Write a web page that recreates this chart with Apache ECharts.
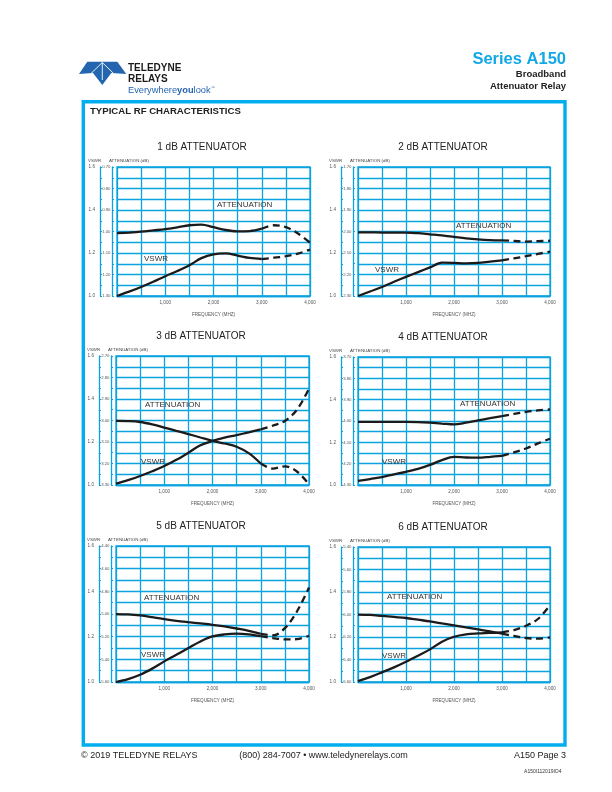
<!DOCTYPE html>
<html><head><meta charset="utf-8">
<script src="https://cdn.jsdelivr.net/npm/echarts@6/dist/echarts.min.js"></script>
<style>html,body{margin:0;padding:0;background:#fff}#c{width:612px;height:792px}</style>
</head><body><div id="c"></div>
<script>
// ---- data ----
const FREQ = [0,250,500,750,1000,1250,1500,1750,2000,2250,2500,2750,3000,3250,3500,3750,4000];

const ATT_1DB  = [1.008,1.005,1.001,0.995,0.989,0.981,0.971,0.968,0.980,0.993,0.999,0.998,0.987,0.971,0.980,1.009,1.052];
const VSWR_1DB = [1.000,1.020,1.042,1.066,1.092,1.116,1.143,1.176,1.194,1.198,1.188,1.177,1.172,1.178,1.185,1.197,1.216];

const ATT_2DB  = [2.004,2.004,2.005,2.005,2.005,2.008,2.013,2.018,2.025,2.032,2.037,2.040,2.041,2.044,2.047,2.045,2.043];
const VSWR_2DB = [1.000,1.021,1.042,1.066,1.089,1.111,1.133,1.155,1.154,1.152,1.154,1.160,1.166,1.175,1.185,1.196,1.206];

const ATT_3DB  = [3.002,3.003,3.007,3.018,3.033,3.048,3.063,3.079,3.095,3.107,3.122,3.152,3.200,3.224,3.213,3.237,3.297];
const VSWR_3DB = [1.006,1.023,1.042,1.064,1.088,1.117,1.150,1.185,1.205,1.220,1.232,1.245,1.259,1.276,1.298,1.350,1.448];

const ATT_4DB  = [4.004,4.004,4.004,4.004,4.004,4.005,4.008,4.012,4.016,4.008,3.997,3.987,3.977,3.967,3.957,3.950,3.946];
const VSWR_4DB = [1.019,1.028,1.037,1.050,1.062,1.076,1.094,1.117,1.132,1.129,1.128,1.132,1.137,1.153,1.171,1.195,1.217];

const ATT_5DB  = [5.001,5.004,5.013,5.028,5.045,5.060,5.072,5.083,5.095,5.110,5.128,5.148,5.175,5.189,5.125,4.978,4.767];
const VSWR_5DB = [1.000,1.013,1.032,1.059,1.091,1.120,1.150,1.179,1.201,1.210,1.213,1.210,1.202,1.194,1.188,1.189,1.204];

const ATT_6DB  = [6.001,6.004,6.013,6.022,6.031,6.046,6.061,6.079,6.096,6.114,6.132,6.150,6.170,6.191,6.209,6.215,6.203];
const VSWR_6DB = [1.004,1.022,1.043,1.065,1.090,1.117,1.145,1.179,1.201,1.212,1.216,1.218,1.221,1.231,1.250,1.280,1.342];

const CHART_TITLES = ['1 dB ATTENUATOR','2 dB ATTENUATOR','3 dB ATTENUATOR','4 dB ATTENUATOR','5 dB ATTENUATOR','6 dB ATTENUATOR'];
const ATT_MIN = [0.70,1.70,2.70,3.70,4.40,5.40];
const ATT_MAX = [1.30,2.30,3.30,4.30,5.60,6.60];
const VSWR_MIN = 1.0, VSWR_MAX = 1.6;
const X_TICK_LABELS = ['1,000','2,000','3,000','4,000'];
const DASH_START_MHZ = 3000;

const ATT_SERIES = [ATT_1DB,ATT_2DB,ATT_3DB,ATT_4DB,ATT_5DB,ATT_6DB];
const VSWR_SERIES = [VSWR_1DB,VSWR_2DB,VSWR_3DB,VSWR_4DB,VSWR_5DB,VSWR_6DB];

// ---- layout ----
const GRIDS = [
  {left:117, top:167, width:193, height:129},
  {left:358, top:167, width:192, height:129},
  {left:116, top:356, width:193, height:129},
  {left:358, top:357, width:192, height:128},
  {left:116, top:546, width:193, height:136},
  {left:358, top:547, width:192, height:135}
];
const LABEL_POS = [
  {att:[217,205], vswr:[144,259]},
  {att:[456,226], vswr:[375,270]},
  {att:[145,405], vswr:[141,462]},
  {att:[460,404], vswr:[382,462]},
  {att:[144,598], vswr:[141,655]},
  {att:[387,597], vswr:[382,656]}
];
const BLUE = '#0AA2DF';
const FRAME = '#00AEEF';
const INK = '#1b1b1b';
const FONT = '"Liberation Sans", Arial, Helvetica, sans-serif';

const grid = [], xAxis = [], yAxis = [], series = [], graphic = [];

GRIDS.forEach((g, k) => {
  grid.push(Object.assign({show:true, borderColor:BLUE, borderWidth:1.3, backgroundColor:'transparent'}, g));
  xAxis.push({
    type:'value', gridIndex:k, min:0, max:4000, interval:500,
    axisLine:{show:true, lineStyle:{color:BLUE, width:1.3}},
    axisTick:{show:false},
    splitLine:{show:true, lineStyle:{color:BLUE, width:1.3}},
    axisLabel:{fontSize:4.6, color:'#555', margin:4, fontFamily:FONT,
      formatter:v => (v > 0 && v % 1000 === 0) ? X_TICK_LABELS[v/1000 - 1] : ''},
    name:'FREQUENCY (MHZ)', nameLocation:'middle', nameGap:16,
    nameTextStyle:{fontSize:4.6, color:'#555', fontFamily:FONT}
  });
  const vStep = 0.05;
  yAxis.push({
    type:'value', gridIndex:k, position:'left', offset:17,
    min:VSWR_MIN, max:VSWR_MAX, interval:vStep,
    axisLine:{show:true, onZero:false, lineStyle:{color:BLUE, width:1.3}},
    axisTick:{show:true, inside:true, length:2, lineStyle:{color:BLUE, width:1}},
    splitLine:{show:true, lineStyle:{color:BLUE, width:1.3}},
    axisLabel:{fontSize:4.6, color:'#555', margin:5, fontFamily:FONT,
      formatter:v => { const i = Math.round((v - VSWR_MIN)/vStep); return i % 4 === 0 ? v.toFixed(1) : ''; }}
  });
  const aStep = (ATT_MAX[k] - ATT_MIN[k]) / 12;
  yAxis.push({
    type:'value', gridIndex:k, position:'left', offset:5, inverse:true,
    min:ATT_MIN[k], max:ATT_MAX[k], interval:aStep,
    axisLine:{show:true, onZero:false, lineStyle:{color:BLUE, width:1.3}},
    axisTick:{show:true, inside:true, length:2, lineStyle:{color:BLUE, width:1}},
    splitLine:{show:false},
    axisLabel:{fontSize:4.3, color:'#555', margin:1.5, fontFamily:FONT,
      formatter:v => { const i = Math.round((v - ATT_MIN[k])/aStep); return i % 2 === 0 ? v.toFixed(2) : ''; }}
  });
  const pairs = arr => FREQ.map((f, i) => [f, arr[i]]);
  const cut = FREQ.indexOf(DASH_START_MHZ);
  const mk = (data, yIdx, dashed) => ({
    type:'line', xAxisIndex:k, yAxisIndex:yIdx, data, smooth:0.35, symbol:'none', silent:true,
    lineStyle:{color:INK, width:2.3, type: dashed ? [7,4.5] : 'solid', cap:'butt'}, z:5
  });
  const att = pairs(ATT_SERIES[k]), vs = pairs(VSWR_SERIES[k]);
  series.push(mk(att.slice(0, cut+1), 2*k+1, false));
  series.push(mk(att.slice(cut), 2*k+1, true));
  series.push(mk(vs.slice(0, cut+1), 2*k, false));
  series.push(mk(vs.slice(cut), 2*k, true));

  // texts around chart
  graphic.push({type:'text', x:g.left + 85, y:g.top - 20,
    style:{text:CHART_TITLES[k], font:'10px ' + FONT, fill:'#222', textAlign:'center', textVerticalAlign:'middle'}});
  graphic.push({type:'text', x:g.left - 29, y:g.top - 6,
    style:{text:'VSWR', font:'4.4px ' + FONT, fill:'#444', textAlign:'left', textVerticalAlign:'middle'}});
  graphic.push({type:'text', x:g.left - 8, y:g.top - 6,
    style:{text:'ATTENUATION (dB)', font:'4.4px ' + FONT, fill:'#444', textAlign:'left', textVerticalAlign:'middle'}});
  graphic.push({type:'text', x:LABEL_POS[k].att[0], y:LABEL_POS[k].att[1], z:10,
    style:{text:'ATTENUATION', font:'8px ' + FONT, fill:'#333', textAlign:'left', textVerticalAlign:'middle'}});
  graphic.push({type:'text', x:LABEL_POS[k].vswr[0], y:LABEL_POS[k].vswr[1], z:10,
    style:{text:'VSWR', font:'8px ' + FONT, fill:'#333', textAlign:'left', textVerticalAlign:'middle'}});
});

// page frame
graphic.push({type:'rect', shape:{x:83.3, y:101.7, width:481.7, height:643.3},
  style:{fill:'none', stroke:FRAME, lineWidth:3.4}});
graphic.push({type:'text', x:90, y:111.5,
  style:{text:'TYPICAL RF CHARACTERISTICS', font:'bold 9.6px ' + FONT, fill:'#222', textVerticalAlign:'middle'}});

// header logo
const LOGO = '#2465B0';
graphic.push({type:'polygon', shape:{points:[[87.3,61.8],[117.3,61.8],[126.3,74],[111.3,73],[102.3,85],[93,73],[79,74]]}, style:{fill:LOGO}});
graphic.push({type:'polyline', shape:{points:[[91,73.5],[102.3,62.5],[113.6,73.5]]}, style:{stroke:'#fff', lineWidth:0.9, fill:null}});
graphic.push({type:'line', shape:{x1:102.3, y1:62.5, x2:102.3, y2:80}, style:{stroke:'#fff', lineWidth:0.9}});
graphic.push({type:'text', x:128, y:68, style:{text:'TELEDYNE', font:'bold 10px ' + FONT, fill:'#1a1a1a', textVerticalAlign:'middle'}});
graphic.push({type:'text', x:128, y:79, style:{text:'RELAYS', font:'bold 10px ' + FONT, fill:'#1a1a1a', textVerticalAlign:'middle'}});
graphic.push({type:'text', x:128, y:90.5, style:{
  text:'{a|Everywhere}{b|you}{a|look}{c|™}', textVerticalAlign:'middle',
  rich:{a:{font:'9.3px ' + FONT, fill:'#2465B0'}, b:{font:'bold 9.3px ' + FONT, fill:'#2465B0'}, c:{font:'4px ' + FONT, fill:'#2465B0', verticalAlign:'top'}}}});
graphic.push({type:'text', x:566, y:59, style:{text:'Series A150', font:'bold 16.5px ' + FONT, fill:'#12A8E6', textAlign:'right', textVerticalAlign:'middle'}});
graphic.push({type:'text', x:566, y:74, style:{text:'Broadband', font:'bold 9.5px ' + FONT, fill:'#222', textAlign:'right', textVerticalAlign:'middle'}});
graphic.push({type:'text', x:566, y:86, style:{text:'Attenuator Relay', font:'bold 9.5px ' + FONT, fill:'#222', textAlign:'right', textVerticalAlign:'middle'}});

// footer
graphic.push({type:'text', x:81, y:756, style:{text:'© 2019 TELEDYNE RELAYS', font:'9px ' + FONT, fill:'#222', textVerticalAlign:'middle'}});
graphic.push({type:'text', x:323.5, y:756, style:{text:'(800) 284-7007 • www.teledynerelays.com', font:'9px ' + FONT, fill:'#222', textAlign:'center', textVerticalAlign:'middle'}});
graphic.push({type:'text', x:566, y:756, style:{text:'A150 Page 3', font:'9px ' + FONT, fill:'#222', textAlign:'right', textVerticalAlign:'middle'}});
graphic.push({type:'text', x:561.5, y:772, style:{text:'A150I112019IO4', font:'5px ' + FONT, fill:'#333', textAlign:'right', textVerticalAlign:'middle'}});

const chart = echarts.init(document.getElementById('c'), null, {renderer:'canvas'});
chart.setOption({animation:false, backgroundColor:'#fff', grid, xAxis, yAxis, series, graphic});
</script>
</body></html>
